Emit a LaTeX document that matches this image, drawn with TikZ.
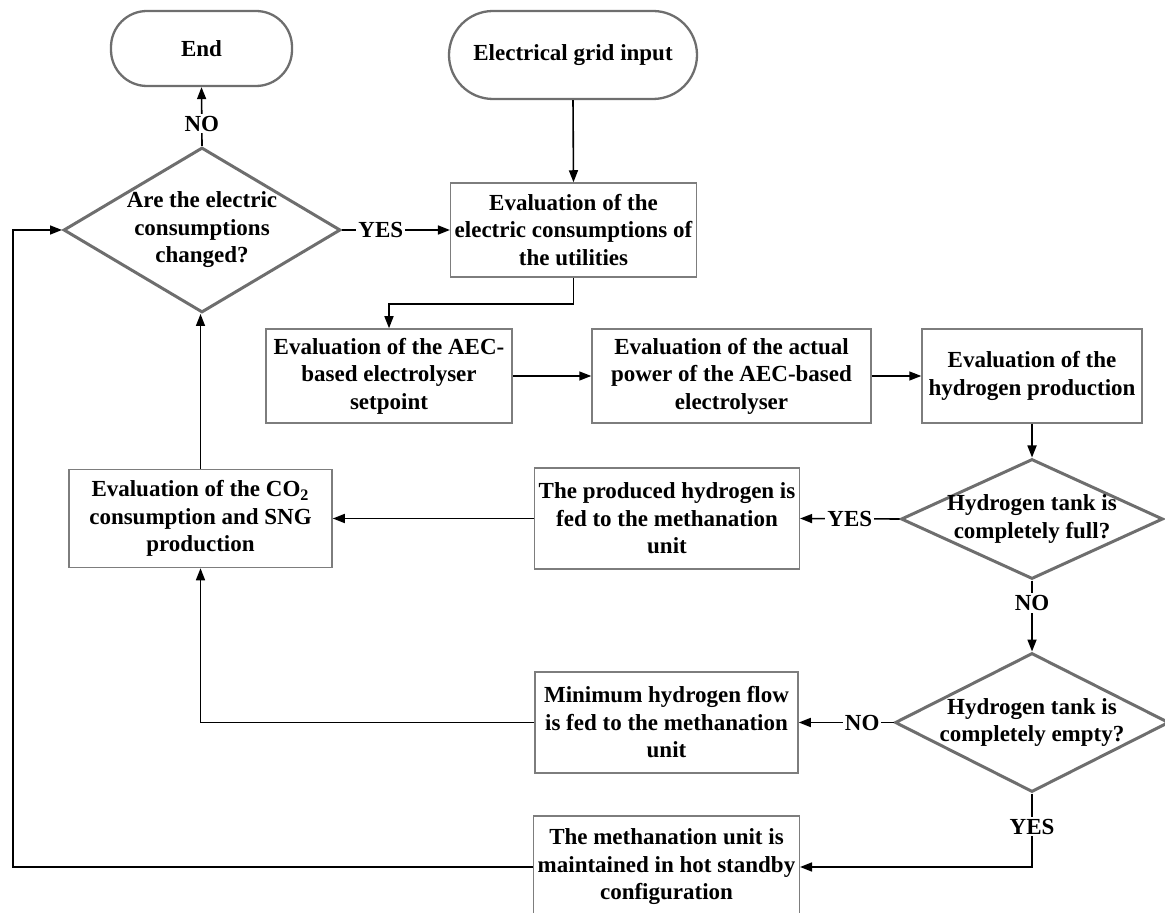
\documentclass[tikz,border=0pt]{standalone}
\usepackage{fontspec}
\setmainfont{Liberation Serif}
\usetikzlibrary{arrows.meta,shapes.geometric}
\definecolor{grisb}{RGB}{125,125,125}
\definecolor{grisd}{RGB}{110,110,110}
\newcommand{\letra}{\fontsize{11.5}{13.75}\selectfont\bfseries}
\tikzset{
  caja/.style={draw=grisb, line width=0.75pt, rectangle, align=center, inner sep=2pt, font=\letra},
  term/.style={draw=grisd, line width=1.15pt, rectangle, rounded corners=18pt, align=center, font=\letra},
  deci/.style={draw=grisd, line width=1.5pt, diamond, inner sep=0pt},
  dtxt/.style={align=center, inner sep=0pt, font=\letra},
  fl/.style={-{Triangle[length=6pt,width=4.5pt]}, line width=0.8pt, black},
  et/.style={fill=white, inner sep=1pt, font=\letra},
}
\begin{document}
\begin{tikzpicture}[x=0.5pt, y=-0.5pt]
  \useasboundingbox (0,0) rectangle (1165,913);
  \node[term, minimum width=90.5pt, minimum height=37.5pt] (fin) at (201.5,48.5) {End};
  \node[term, rounded corners=22pt, minimum width=124pt, minimum height=44pt] (red) at (573,55) {Electrical grid input};
  \node[deci, minimum width=138.5pt, minimum height=82.5pt] (dec1) at (202,230) {};
  \node[dtxt] (dec1t) at (dec1) {Are the electric\\consumptions\\changed?};
  \node[caja, minimum width=122.5pt, minimum height=47pt] (util) at (573.5,230)
    {Evaluation of the\\electric consumptions of\\the utilities};
  \node[caja, minimum width=123pt, minimum height=47pt] (setp) at (389,376)
    {Evaluation of the AEC-\\based electrolyser\\setpoint};
  \node[caja, minimum width=139.5pt, minimum height=47pt] (pow) at (731.5,376)
    {Evaluation of the actual\\power of the AEC-based\\electrolyser};
  \node[caja, minimum width=110pt, minimum height=47pt] (hprod) at (1032,376)
    {Evaluation of the\\hydrogen production};
  \node[deci, minimum width=131pt, minimum height=60pt] (dec2) at (1032,519) {};
  \node[dtxt] (dec2t) at (dec2) {Hydrogen tank is\\completely full?};
  \node[caja, minimum width=131pt, minimum height=50.5pt] (fed) at (667,518.5)
    {The produced hydrogen is\\fed to the methanation\\unit};
  \node[caja, minimum width=131.5pt, minimum height=49pt] (co2) at (200.5,518.5)
    {Evaluation of the CO\textsubscript{2}\\consumption and SNG\\production};
  \node[deci, minimum width=137pt, minimum height=69.5pt] (dec3) at (1032,722.5) {};
  \node[dtxt] (dec3t) at (dec3) {Hydrogen tank is\\completely empty?};
  \node[caja, minimum width=131.5pt, minimum height=50.5pt] (minh) at (666.5,722.5)
    {Minimum hydrogen flow\\is fed to the methanation\\unit};
  \node[caja, minimum width=131.5pt, minimum height=51pt] (stby) at (666.5,867)
    {The methanation unit is\\maintained in hot standby\\configuration};
  \coordinate (lazo) at (13,600);
  \draw[fl] (red.south) -- (util.north);
  \draw[fl] (util.south) -- ++(0,26) -| (setp.north);
  \draw[fl] (dec1.east) -- node[et, pos=0.36] {YES} (util.west);
  \draw[fl] (dec1.north) -- node[et, pos=0.38] {NO} (fin.south);
  \draw[fl] (setp.east) -- (pow.west);
  \draw[fl] (pow.east) -- (hprod.west);
  \draw[fl] (hprod.south) -- (dec2.north);
  \draw[fl] (dec2.west) -- node[et] {YES} (fed.east);
  \draw[fl] (dec2.south) -- node[et, pos=0.32] {NO} (dec3.north);
  \draw[fl] (fed.west) -- (co2.east);
  \draw[fl] (co2.north) -- (co2.north |- dec1.south);
  \draw[fl] (dec3.west) -- node[et, pos=0.33] {NO} (minh.east);
  \draw[fl] (minh.west) -| (co2.south);
  \draw[fl] (dec3.south) -- node[et, pos=0.45] {YES} (dec3.south |- stby.east) -- (stby.east);
  \draw[fl] (stby.west) -| (lazo) |- (dec1.west);
\end{tikzpicture}
\end{document}
